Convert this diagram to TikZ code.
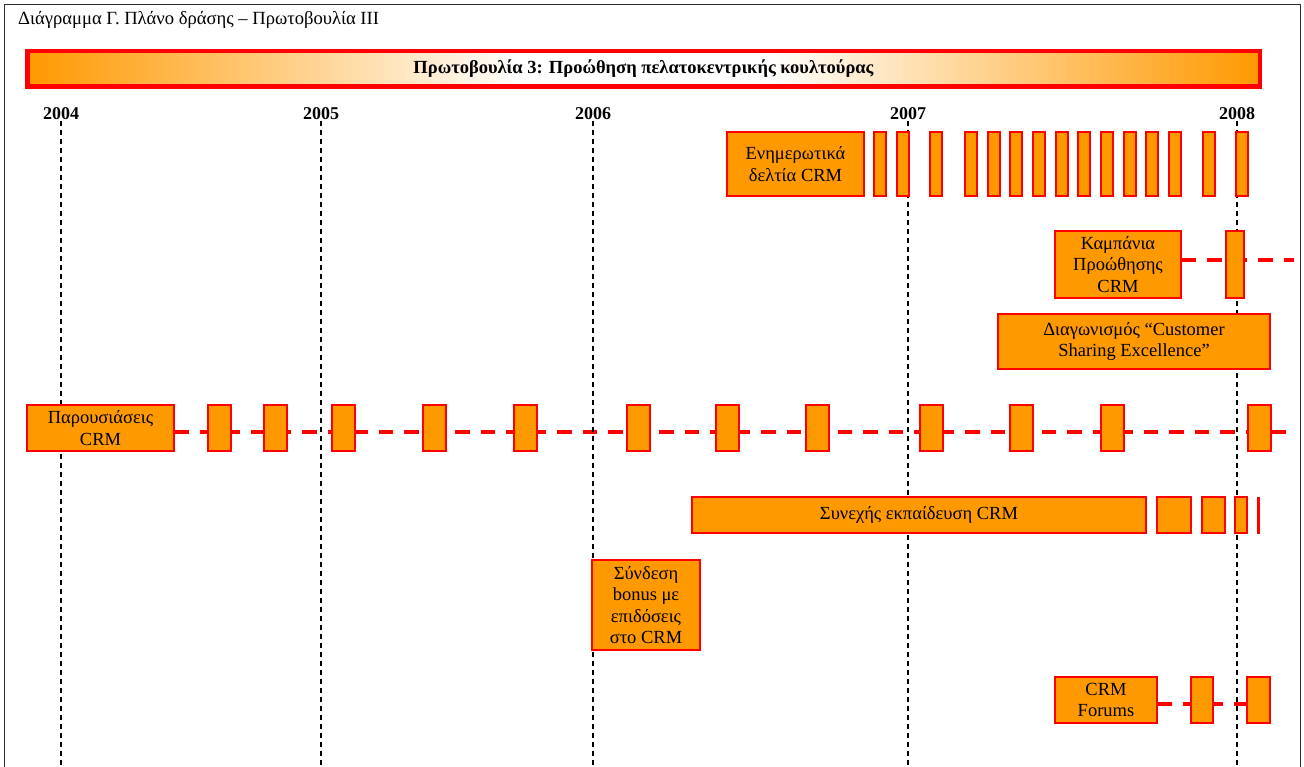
\documentclass[tikz,border=0pt]{standalone}
\usepackage{fontspec}
\setmainfont{Liberation Serif}
\usetikzlibrary{backgrounds}

\definecolor{boxorange}{RGB}{255,153,0}
\definecolor{boxred}{RGB}{255,0,0}
\definecolor{framegray}{RGB}{45,45,45}

% orange -> white -> orange band for the initiative banner
\pgfdeclarehorizontalshading{bannershade}{100bp}{%
  color(0bp)=(boxorange); color(25bp)=(boxorange); color(45bp)=(white);
  color(55bp)=(white); color(75bp)=(boxorange); color(100bp)=(boxorange)}

\tikzset{
  obox/.style={draw=boxred, fill=boxorange, line width=1.4pt, inner sep=0pt,
               align=center, font=\fontsize{18.5}{21.5}\selectfont},
  yearlabel/.style={font=\bfseries\fontsize{18}{21}\selectfont, inner sep=1pt, anchor=base},
  yearline/.style={black, line width=1.8pt, dash pattern=on 5pt off 4pt},
  track/.style={boxred, line width=4pt, dash pattern=on 14.5pt off 11pt},
  bannerbox/.style={shading=bannershade, draw=boxred, line width=4.5pt, inner sep=0pt,
               font=\bfseries\fontsize{18.5}{20}\selectfont},
}

% \actbox{name}{x1}{y1}{x2}{y2}{text}: activity box given by its corners
\newcommand{\actbox}[6]{%
  \node[obox, minimum width={#4pt-#2pt}, minimum height={#5pt-#3pt}]
    (#1) at ({(#2+#4)/2},{(#3+#5)/2}) {#6};}

\begin{document}
\begin{tikzpicture}[x=1pt,y=-1pt]
\useasboundingbox (0,0) rectangle (1304,767);

% page frame
\draw[framegray, line width=1.5pt] (4.5,767) -- (4.5,4.5) -- (1300.5,4.5) -- (1300.5,767);

\node[font=\fontsize{18.6}{20}\selectfont, anchor=base west, inner sep=0pt] (title) at (18,25)
  {Διάγραμμα Γ. Πλάνο δράσης – Πρωτοβουλία III};

\node[bannerbox, minimum width=1232.5pt, minimum height=35.5pt] (banner) at (643.5,69)
  {Πρωτοβουλία 3: Προώθηση πελατοκεντρικής κουλτούρας};

% year markers
\node[yearlabel] (y2004) at (61,120) {2004};
\node[yearlabel] (y2005) at (321,120) {2005};
\node[yearlabel] (y2006) at (593,120) {2006};
\node[yearlabel] (y2007) at (908,120) {2007};
\node[yearlabel] (y2008) at (1237,120) {2008};
\foreach \yr in {2004,2005,2006,2007,2008}
  {\coordinate (b\yr) at (y\yr |- 0,767);}

% newsletters
\actbox{news}{727}{132}{864}{196}{Ενημερωτικά\\δελτία CRM}
\foreach \i/\xl in {1/874,2/897,3/930,4/965,5/988,6/1010,7/1033,8/1056,9/1078,
                    10/1101,11/1124,12/1146,13/1169,14/1203,15/1236}
  {\actbox{news\i}{\xl}{132}{\xl+12}{196}{}}

% promotion campaign
\actbox{kamp}{1055}{231}{1181}{298}{Καμπάνια\\Προώθησης\\CRM}
\actbox{kamp1}{1226}{231}{1244}{298}{}
\coordinate (kend) at (1294,260);

% contest
\actbox{contest}{998}{314}{1270}{369}{Διαγωνισμός “Customer\\Sharing Excellence”}

% presentations
\actbox{pres}{27}{405}{174}{451}{Παρουσιάσεις\\CRM}
\foreach \i/\xl in {1/208,2/264,3/332,4/423,5/514,6/627,7/716,8/806,9/920,10/1010,11/1101,12/1248}
  {\actbox{pres\i}{\xl}{405}{\xl+23}{451}{}}
\coordinate (pend) at (1293,432);

% continuous training
\actbox{train}{692}{497}{1146}{533}{Συνεχής εκπαίδευση CRM}
\actbox{train1}{1157}{497}{1191}{533}{}
\actbox{train2}{1202}{497}{1225}{533}{}
\actbox{train3}{1235}{497}{1247}{533}{}
\node[fill=boxred, inner sep=0pt, minimum width=3pt, minimum height=37pt] (train4) at (1258.5,515) {};

% bonus link
\actbox{bonus}{592}{560}{700}{650}{Σύνδεση\\bonus με\\επιδόσεις\\στο CRM}

% forums
\actbox{forum}{1055}{677}{1157}{723}{CRM\\Forums}
\actbox{forum1}{1191}{677}{1213}{723}{}
\actbox{forum2}{1247}{677}{1270}{723}{}
\coordinate (fend) at (1247,704);

\begin{pgfonlayer}{background}
  \draw[track] (kamp.east |- kend) -- (kend);
  \draw[track] (pres.east |- pend) -- (pend);
  \draw[track] (forum.east |- fend) -- (fend);
  \foreach \yr in {2004,2005,2006,2007,2008}
    {\draw[yearline] (y\yr.south) -- (b\yr);}
\end{pgfonlayer}
\end{tikzpicture}
\end{document}
